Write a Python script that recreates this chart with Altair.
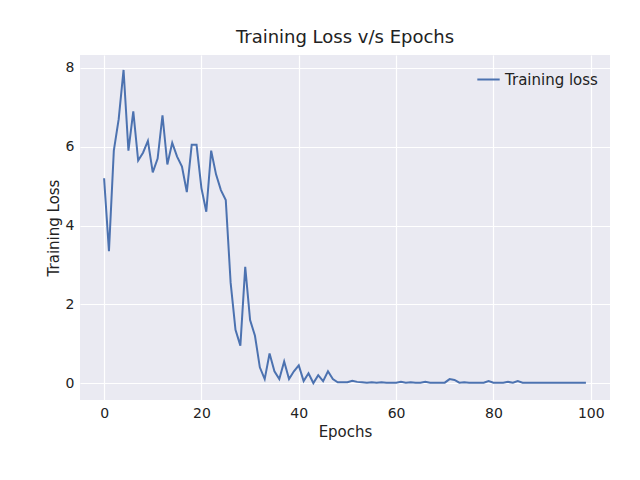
import altair as alt
import pandas as pd

epochs = list(range(100))
loss_head = [5.2, 3.35, 5.9, 6.7, 7.95, 5.9, 6.9, 5.65, 5.85, 6.15,
             5.35, 5.7, 6.8, 5.55, 6.1, 5.75, 5.5, 4.85, 6.05, 6.05,
             4.95, 4.35, 5.9, 5.3, 4.9, 4.65, 2.55, 1.35, 0.95, 2.95,
             1.6, 1.2, 0.4, 0.1, 0.75, 0.3, 0.1, 0.55, 0.1, 0.3,
             0.45, 0.05, 0.25, 0.0, 0.2, 0.05, 0.3, 0.1, 0.02, 0.02]
loss_tail = [0.02, 0.06, 0.03, 0.02, 0.01, 0.02, 0.01, 0.02, 0.01, 0.01,
             0.01, 0.03, 0.01, 0.02, 0.01, 0.01, 0.03, 0.01, 0.01, 0.01,
             0.01, 0.1, 0.08, 0.01, 0.02, 0.01, 0.01, 0.01, 0.01, 0.05,
             0.01, 0.01, 0.01, 0.03, 0.01, 0.05, 0.01, 0.01, 0.01, 0.01,
             0.01, 0.01, 0.01, 0.01, 0.01, 0.01, 0.01, 0.01, 0.01, 0.01]
loss = loss_head + loss_tail

df = pd.DataFrame({"epoch": epochs, "loss": loss, "series": "Training loss"})

chart = alt.Chart(df).mark_line(strokeWidth=2, clip=True).encode(
    x=alt.X("epoch:Q", title="Epochs",
            scale=alt.Scale(domain=[-4.95, 103.95], nice=False, zero=False),
            axis=alt.Axis(values=[0, 20, 40, 60, 80, 100])),
    y=alt.Y("loss:Q", title="Training Loss",
            scale=alt.Scale(domain=[-0.43, 8.33], nice=False, zero=False),
            axis=alt.Axis(values=[0, 2, 4, 6, 8])),
    color=alt.Color("series:N", title=None,
                    scale=alt.Scale(range=["#4C72B0"]),
                    legend=alt.Legend(orient="top-right", symbolType="stroke",
                                      symbolStrokeWidth=2, symbolSize=500,
                                      labelFontSize=15, labelColor="#222222",
                                      offset=12)),
).properties(
    width=530, height=345,
    title=alt.Title("Training Loss v/s Epochs", fontSize=18, fontWeight="normal",
                    color="#222222", offset=8),
    autosize=alt.AutoSizeParams(type="none"),
    padding={"left": 72, "top": 47, "right": 22, "bottom": 72},
).configure(
    font="DejaVu Sans"
).configure_view(
    fill="#EAEAF2", stroke=None
).configure_axis(
    domain=False, ticks=False, gridColor="white", gridWidth=1.2,
    labelFontSize=14, titleFontSize=15, labelColor="#222222",
    titleColor="#222222", titleFontWeight="normal", labelPadding=6
)

chart.save("out.html", embed_options={"renderer": "svg", "actions": False})
